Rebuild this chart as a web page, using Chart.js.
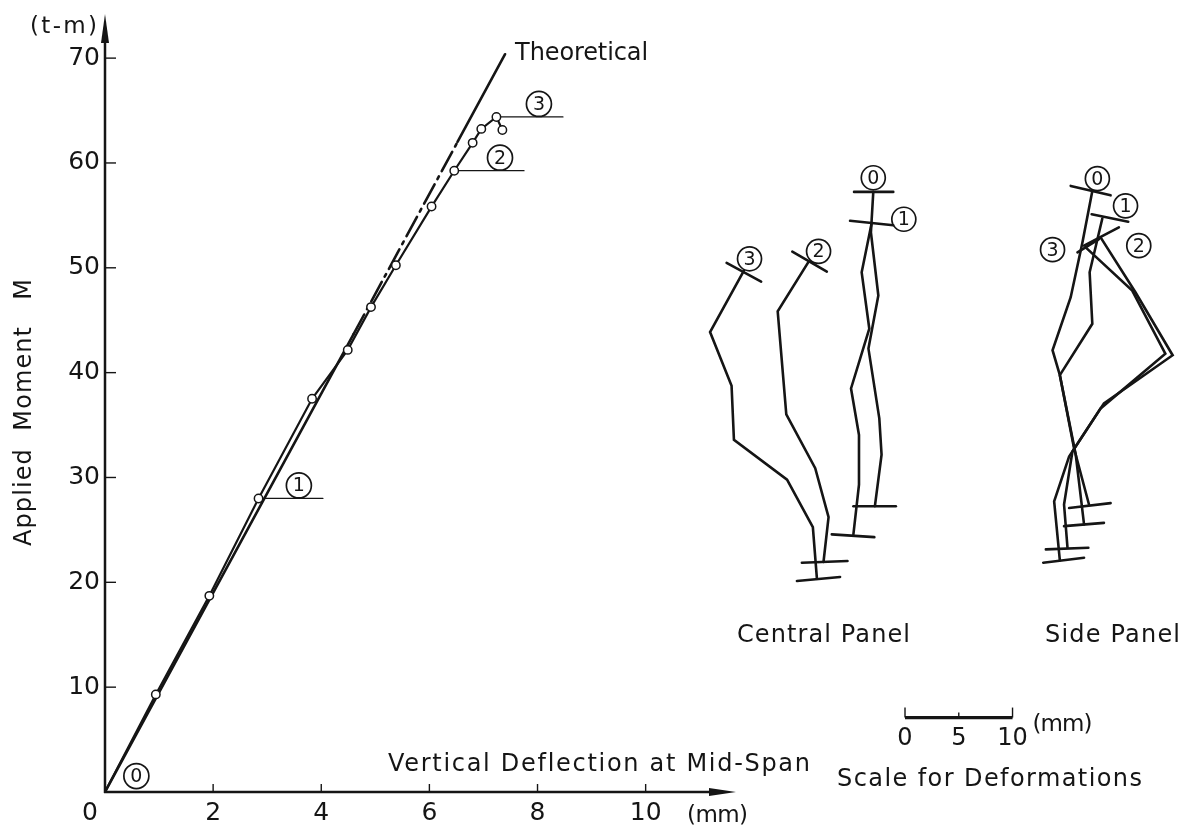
<!DOCTYPE html>
<html>
<head>
<meta charset="utf-8">
<title>Applied Moment - Vertical Deflection</title>
<script src="https://cdn.jsdelivr.net/npm/chart.js"></script>
<style>
  html, body { margin: 0; padding: 0; background: #fff; }
  .chart-container { width: 1192px; height: 831px; position: relative; }
</style>
</head>
<body>
<div class="chart-container"><canvas id="momentChart"></canvas></div>
<script>
// measured curve: vertical deflection at mid-span (mm) vs applied moment (t-m)
const deflection = [0, 0.94, 1.93, 2.84, 3.83, 4.49, 4.92, 5.38, 6.04, 6.46, 6.80, 6.96, 7.24, 7.35];
const moment     = [0, 9.31, 18.71, 28.0, 37.51, 42.17, 46.25, 50.24, 55.84, 59.26, 61.92, 63.25, 64.39, 63.15];

// theoretical line (solid / dash-dot / solid)
const theoryX = [0, 4.6, 6.52, 7.40];
const theoryM = [0, 43.7, 62.0, 70.37];

const xTicks = [2, 4, 6, 8, 10];
const yTicks = [10, 20, 30, 40, 50, 60, 70];

// load stages marked on the curve
const stageNames = ['1', '2', '3'];
const stagePoint = [3, 9, 12];          // index into deflection/moment
const stageLeaderEnd = [4.03, 7.75, 8.47];

// panel deformation shapes, stages 0..3 (x: deformation scale in mm, y: height)
const centralX = [
  [71.45, 71.23, 71.92, 71.0, 72.01, 72.22, 71.6],
  [71.30, 70.37, 71.08, 69.38, 70.12, 70.12, 69.6],
  [65.44, 62.56, 63.36, 66.05, 67.29, 66.82],
  [59.42, 56.27, 58.27, 58.49, 63.43, 65.83, 66.20]
];
const centralY = [
  [57.24, 53.37, 47.36, 42.29, 35.64, 32.17, 27.26],
  [54.27, 49.57, 44.19, 38.49, 34.06, 29.32, 24.57],
  [50.59, 45.84, 36.02, 30.89, 26.21, 21.94],
  [49.73, 43.87, 38.75, 33.59, 29.79, 25.26, 20.45]
];
const centralCapX = [
  [69.66, 73.31], [69.29, 73.31], [63.92, 67.13], [57.81, 61.02],
  [69.6, 73.55], [67.59, 71.55], [64.81, 69.05], [64.35, 68.36]
];
const centralCapY = [
  [57.24, 57.24], [54.48, 54.06], [51.54, 49.64], [50.46, 48.69],
  [27.26, 27.26], [24.57, 24.31], [21.87, 22.03], [20.13, 20.51]
];
const centralTagX = [71.45, 74.29, 66.36, 59.94];
const centralTagY = [58.59, 54.63, 51.57, 50.86];

const sideX = [
  [91.82, 90.90, 89.81, 88.12, 88.80, 90.12, 91.51],
  [92.75, 91.57, 91.82, 88.80, 90.28, 91.05],
  [92.59, 95.83, 99.29, 92.90, 89.97, 89.19, 89.51],
  [91.20, 95.53, 98.61, 92.59, 89.66, 88.27, 88.80]
];
const sideY = [
  [57.33, 52.42, 47.20, 42.14, 39.76, 32.79, 27.42],
  [54.70, 49.57, 44.66, 39.76, 32.17, 25.52],
  [52.90, 47.67, 41.66, 37.07, 32.48, 27.42, 23.30],
  [51.95, 47.83, 41.81, 36.59, 32.0, 27.73, 22.10]
];
const sideCapX = [
  [89.81, 93.52], [91.76, 95.16], [91.05, 94.29], [90.44, 92.44],
  [89.66, 93.52], [89.19, 92.9], [87.5, 91.45], [87.25, 91.05]
];
const sideCapY = [
  [57.81, 56.91], [55.11, 54.39], [52.11, 53.85], [51.47, 52.74],
  [27.09, 27.55], [25.36, 25.67], [23.14, 23.30], [21.87, 22.35]
];
const sideTagX = [92.29, 94.91, 96.14, 88.12];
const sideTagY = [58.5, 55.91, 52.11, 51.73];

// scale for deformations
const scaleBarStart = 74.4;
const scaleBarTicks = [0, 5, 10];
const scaleBarLevel = 7.1;

const ink = '#151515';
const FONT = '"DejaVu Sans", sans-serif';

function pts(xs, ys) { return xs.map((v, i) => ({ x: v, y: ys[i] })); }

const datasets = [];
datasets.push({
  data: pts(deflection, moment), borderColor: ink, borderWidth: 2.2,
  pointRadius: c => c.dataIndex === 0 ? 0 : 4.2, pointBackgroundColor: '#fff',
  pointBorderColor: ink, pointBorderWidth: 1.5
});
datasets.push({
  data: pts(theoryX, theoryM), borderColor: ink, borderWidth: 2.6, pointRadius: 0,
  segment: { borderDash: c => c.p0DataIndex === 1 ? [22, 6, 3, 6] : undefined }
});
stageNames.forEach((s, i) => {
  const p = stagePoint[i];
  datasets.push({
    data: [{ x: deflection[p], y: moment[p] }, { x: stageLeaderEnd[i], y: moment[p] }],
    borderColor: ink, borderWidth: 1.3, pointRadius: 0
  });
});
function addPanel(xs, ys) {
  xs.forEach((row, i) => datasets.push({
    data: pts(row, ys[i]), xAxisID: 'xd', borderColor: ink, borderWidth: 2.6, pointRadius: 0
  }));
}
addPanel(centralX, centralY);
addPanel(centralCapX, centralCapY);
addPanel(sideX, sideY);
addPanel(sideCapX, sideCapY);

function fitText(ctx, str, left, baseline, width, size) {
  ctx.font = size + 'px ' + FONT;
  ctx.letterSpacing = '0px';
  const w = ctx.measureText(str).width;
  const ls = str.length > 1 ? (width - w) / (str.length - 1) : 0;
  ctx.letterSpacing = ls + 'px';
  ctx.textAlign = 'left';
  ctx.textBaseline = 'alphabetic';
  ctx.fillText(str, left, baseline);
  ctx.letterSpacing = '0px';
}

function circled(ctx, cx, cy, digit, r) {
  ctx.beginPath();
  ctx.arc(cx, cy, r, 0, Math.PI * 2);
  ctx.lineWidth = 1.7;
  ctx.stroke();
  ctx.font = '19px ' + FONT;
  ctx.textAlign = 'center';
  ctx.textBaseline = 'middle';
  ctx.fillText(digit, cx, cy + 1);
}

const drawing = {
  id: 'drawing',
  beforeDatasetsDraw(chart) {
    const { ctx, scales } = chart;
    const x = scales.x, y = scales.y;
    const x0 = x.getPixelForValue(0), y0 = y.getPixelForValue(0);
    ctx.save();
    ctx.strokeStyle = ink; ctx.fillStyle = ink;
    ctx.lineWidth = 2.5;
    // y axis with arrow
    ctx.beginPath(); ctx.moveTo(x0, y0 + 1); ctx.lineTo(x0, 40); ctx.stroke();
    ctx.beginPath(); ctx.moveTo(x0, 14); ctx.lineTo(x0 - 4, 43); ctx.lineTo(x0 + 4, 43); ctx.closePath(); ctx.fill();
    // x axis with arrow
    ctx.beginPath(); ctx.moveTo(x0 - 1, y0); ctx.lineTo(712, y0); ctx.stroke();
    ctx.beginPath(); ctx.moveTo(736, y0); ctx.lineTo(709, y0 - 4); ctx.lineTo(709, y0 + 4); ctx.closePath(); ctx.fill();
    // tick marks (inside)
    ctx.lineWidth = 1.4;
    yTicks.forEach(v => { const p = y.getPixelForValue(v); ctx.beginPath(); ctx.moveTo(x0, p); ctx.lineTo(x0 + 11, p); ctx.stroke(); });
    xTicks.forEach(v => { const p = x.getPixelForValue(v); ctx.beginPath(); ctx.moveTo(p, y0); ctx.lineTo(p, y0 - 8); ctx.stroke(); });
    ctx.restore();
  },
  afterDraw(chart) {
    const { ctx, scales } = chart;
    const x = scales.x, y = scales.y, xd = scales.xd;
    const x0 = x.getPixelForValue(0), y0 = y.getPixelForValue(0);
    ctx.save();
    ctx.strokeStyle = ink; ctx.fillStyle = ink;

    // axis texts
    ctx.font = '25px ' + FONT; ctx.textAlign = 'center'; ctx.textBaseline = 'middle';
    ctx.fillText('0', x0 - 15, y0 + 21);
    fitText(ctx, '(t-m)', 30, 33, 67, 23);
    fitText(ctx, '(mm)', 687, 822, 61, 23);
    fitText(ctx, 'Vertical Deflection at Mid-Span', 388, 771, 422, 24);
    ctx.save();
    ctx.translate(22, 413); ctx.rotate(-Math.PI / 2);
    fitText(ctx, 'Applied  Moment   M', -133, 9, 267, 24);
    ctx.restore();
    fitText(ctx, 'Theoretical', x.getPixelForValue(theoryX[3]) + 10, 60, 133, 24);

    // stage tags on main curve
    stageNames.forEach((s, i) => {
      const px = x.getPixelForValue(stageLeaderEnd[i]) - 24;
      const py = y.getPixelForValue(moment[stagePoint[i]]) - 13;
      circled(ctx, px, py, s, 12.5);
    });
    const ox = x.getPixelForValue(0.58), oy = y.getPixelForValue(1.52);
    circled(ctx, ox, oy, '0', 12.5);

    // panel tags
    centralTagX.forEach((v, i) => circled(ctx, xd.getPixelForValue(v), y.getPixelForValue(centralTagY[i]), String(i), 12));
    sideTagX.forEach((v, i) => circled(ctx, xd.getPixelForValue(v), y.getPixelForValue(sideTagY[i]), String(i), 12));
    fitText(ctx, 'Central Panel', 737, 642, 173, 24);
    fitText(ctx, 'Side Panel', 1045, 642, 135, 24);

    // scale for deformations
    const by = y.getPixelForValue(scaleBarLevel);
    const bx = scaleBarTicks.map(t => xd.getPixelForValue(scaleBarStart + t));
    ctx.lineWidth = 3.2;
    ctx.beginPath(); ctx.moveTo(bx[0], by); ctx.lineTo(bx[2], by); ctx.stroke();
    ctx.lineWidth = 1.4;
    bx.forEach((p, i) => { ctx.beginPath(); ctx.moveTo(p, by); ctx.lineTo(p, by - (i === 1 ? 5 : 10)); ctx.stroke(); });
    ctx.font = '24px ' + FONT; ctx.textAlign = 'center'; ctx.textBaseline = 'middle';
    scaleBarTicks.forEach((t, i) => ctx.fillText(String(t), bx[i], by + 21));
    fitText(ctx, '(mm)', bx[2] + 20, by + 13, 60, 23);
    fitText(ctx, 'Scale for Deformations', 837, 786, 305, 24);
    ctx.restore();
  }
};

new Chart(document.getElementById('momentChart'), {
  type: 'scatter',
  data: { datasets: datasets },
  options: {
    responsive: true,
    maintainAspectRatio: false,
    animation: false,
    showLine: true,
    layout: { padding: { top: 2, right: 1, left: 0, bottom: 0 } },
    plugins: { legend: { display: false }, tooltip: { enabled: false } },
    elements: { line: { tension: 0, borderCapStyle: 'round' } },
    scales: {
      x: {
        type: 'linear', position: 'bottom', min: 0, max: 20,
        grid: { display: false, drawTicks: false }, border: { display: false },
        ticks: { padding: 6, color: ink, font: { family: FONT, size: 25 }, maxRotation: 0, autoSkip: false },
        afterBuildTicks: s => { s.ticks = xTicks.map(v => ({ value: v })); },
        afterFit: s => { s.height = 39; s.paddingLeft = 0; s.paddingRight = 0; }
      },
      y: {
        type: 'linear', min: 0, max: 75,
        grid: { display: false, drawTicks: false }, border: { display: false },
        ticks: { padding: 5, color: ink, font: { family: FONT, size: 25 } },
        afterBuildTicks: s => { s.ticks = yTicks.map(v => ({ value: v })); },
        afterFit: s => { s.width = 105; s.paddingTop = 0; s.paddingBottom = 0; }
      },
      xd: { type: 'linear', axis: 'x', display: false, min: 0, max: 100.56 }
    }
  },
  plugins: [drawing]
});
</script>
</body>
</html>
